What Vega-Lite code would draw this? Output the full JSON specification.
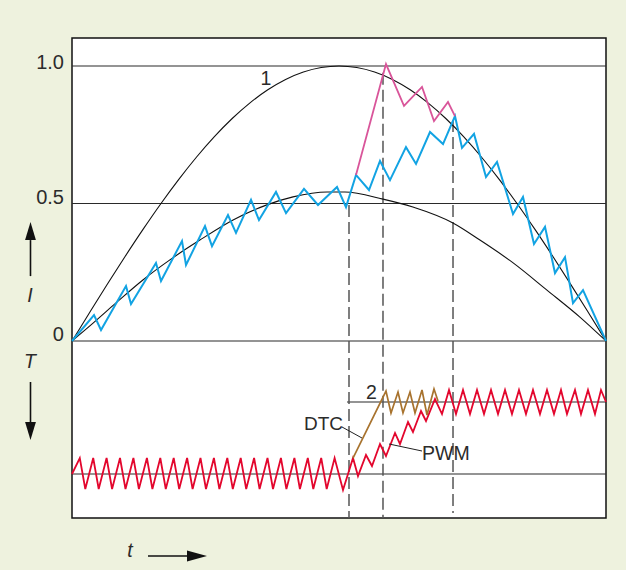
{
  "$schema": "https://vega.github.io/schema/vega-lite/v6.json",
  "width": 534,
  "height": 480,
  "autosize": {"type": "none"},
  "padding": {"left": 72, "top": 38, "right": 20, "bottom": 52},
  "background": "#eef2de",
  "config": {"view": {"stroke": "#111111", "strokeWidth": 1.5, "fill": "#ffffff"}},
  "datasets": {
    "hlines": [
      {"t": 0, "t2": 180, "v": 1},
      {"t": 0, "t2": 180, "v": 0.5},
      {"t": 0, "t2": 180, "v": 0},
      {"t": 0, "t2": 180, "v": -0.4836},
      {"t": 92.7, "t2": 180, "v": -0.2218}
    ],
    "vlines": [
      {"t": 93.37, "v": 0.4945, "v2": -0.6436},
      {"t": 104.83, "v": 0.975, "v2": -0.6436},
      {"t": 128.43, "v": 0.804, "v2": -0.625}
    ],
    "sine": [
      {"t": 0, "v": 0}, {"t": 6, "v": 0.1045}, {"t": 12, "v": 0.2079}, {"t": 18, "v": 0.309},
      {"t": 24, "v": 0.4067}, {"t": 30, "v": 0.5}, {"t": 36, "v": 0.5878}, {"t": 42, "v": 0.6691},
      {"t": 48, "v": 0.7431}, {"t": 54, "v": 0.809}, {"t": 60, "v": 0.866}, {"t": 66, "v": 0.9135},
      {"t": 72, "v": 0.9511}, {"t": 78, "v": 0.9781}, {"t": 84, "v": 0.9945}, {"t": 90, "v": 1},
      {"t": 96, "v": 0.9945}, {"t": 102, "v": 0.9781}, {"t": 108, "v": 0.9511}, {"t": 114, "v": 0.9135},
      {"t": 120, "v": 0.866}, {"t": 126, "v": 0.809}, {"t": 132, "v": 0.7431}, {"t": 138, "v": 0.6691},
      {"t": 144, "v": 0.5878}, {"t": 150, "v": 0.5}, {"t": 156, "v": 0.4067}, {"t": 162, "v": 0.309},
      {"t": 168, "v": 0.2079}, {"t": 174, "v": 0.1045}, {"t": 180, "v": 0}
    ],
    "lower": [
      {"t": 0, "v": 0}, {"t": 7.1, "v": 0.065}, {"t": 15.2, "v": 0.142}, {"t": 23.9, "v": 0.222},
      {"t": 33.0, "v": 0.295}, {"t": 43.1, "v": 0.367}, {"t": 54.3, "v": 0.44}, {"t": 65.7, "v": 0.495},
      {"t": 74.5, "v": 0.524}, {"t": 86.0, "v": 0.542}, {"t": 92, "v": 0.542}, {"t": 104.8, "v": 0.516},
      {"t": 114.9, "v": 0.487}, {"t": 128.4, "v": 0.429}, {"t": 137.5, "v": 0.367}, {"t": 148.7, "v": 0.284},
      {"t": 160.1, "v": 0.185}, {"t": 171.2, "v": 0.087}, {"t": 180, "v": 0}
    ],
    "blue": [
      {"t": 0, "v": 0}, {"t": 7.42, "v": 0.0945}, {"t": 9.78, "v": 0.04}, {"t": 18.2, "v": 0.2},
      {"t": 19.89, "v": 0.1345}, {"t": 28.31, "v": 0.2836}, {"t": 30.0, "v": 0.218}, {"t": 37.08, "v": 0.3636},
      {"t": 38.43, "v": 0.2764}, {"t": 44.83, "v": 0.418}, {"t": 47.19, "v": 0.345}, {"t": 52.58, "v": 0.458},
      {"t": 55.28, "v": 0.393}, {"t": 60.34, "v": 0.513}, {"t": 63.03, "v": 0.44}, {"t": 68.76, "v": 0.542},
      {"t": 72.14, "v": 0.465}, {"t": 78.2, "v": 0.553}, {"t": 82.92, "v": 0.4945}, {"t": 89.33, "v": 0.56},
      {"t": 92.36, "v": 0.487}, {"t": 95.73, "v": 0.604}, {"t": 100.11, "v": 0.549}, {"t": 103.82, "v": 0.6545},
      {"t": 107.19, "v": 0.585}, {"t": 112.58, "v": 0.705}, {"t": 115.96, "v": 0.644}, {"t": 120.67, "v": 0.76},
      {"t": 125.06, "v": 0.716}, {"t": 129.1, "v": 0.818}, {"t": 131.46, "v": 0.702}, {"t": 135.51, "v": 0.753},
      {"t": 139.55, "v": 0.596}, {"t": 143.26, "v": 0.651}, {"t": 148.65, "v": 0.462}, {"t": 152.02, "v": 0.524},
      {"t": 155.73, "v": 0.353}, {"t": 159.44, "v": 0.415}, {"t": 162.81, "v": 0.247}, {"t": 166.18, "v": 0.305},
      {"t": 168.88, "v": 0.138}, {"t": 172.25, "v": 0.185}, {"t": 180, "v": 0}
    ],
    "pink": [
      {"t": 95.73, "v": 0.604}, {"t": 105.84, "v": 1.007}, {"t": 111.91, "v": 0.855}, {"t": 117.98, "v": 0.924},
      {"t": 122.02, "v": 0.8}, {"t": 126.74, "v": 0.869}, {"t": 129.1, "v": 0.818}
    ],
    "red": [
      {"t": 0, "v": -0.4836},
      {"t": 2.63, "v": -0.4255}, {"t": 4.48, "v": -0.5382}, {"t": 7.15, "v": -0.4255}, {"t": 9.0, "v": -0.5382},
      {"t": 11.66, "v": -0.4255}, {"t": 13.51, "v": -0.5382}, {"t": 16.18, "v": -0.4255}, {"t": 18.03, "v": -0.5382},
      {"t": 20.7, "v": -0.4255}, {"t": 22.55, "v": -0.5382}, {"t": 25.25, "v": -0.4255}, {"t": 27.1, "v": -0.5382},
      {"t": 29.76, "v": -0.4255}, {"t": 31.61, "v": -0.5382}, {"t": 34.28, "v": -0.4255}, {"t": 36.13, "v": -0.5382},
      {"t": 38.8, "v": -0.4255}, {"t": 40.65, "v": -0.5382}, {"t": 43.31, "v": -0.4255}, {"t": 45.16, "v": -0.5382},
      {"t": 47.83, "v": -0.4255}, {"t": 49.68, "v": -0.5382}, {"t": 52.35, "v": -0.4255}, {"t": 54.2, "v": -0.5382},
      {"t": 56.87, "v": -0.4255}, {"t": 58.72, "v": -0.5382}, {"t": 61.38, "v": -0.4255}, {"t": 63.23, "v": -0.5382},
      {"t": 65.9, "v": -0.4255}, {"t": 67.75, "v": -0.5382}, {"t": 70.42, "v": -0.4255}, {"t": 72.27, "v": -0.5382},
      {"t": 74.97, "v": -0.4255}, {"t": 76.82, "v": -0.5382}, {"t": 79.48, "v": -0.4255}, {"t": 81.33, "v": -0.5382},
      {"t": 84.0, "v": -0.4255}, {"t": 85.85, "v": -0.5382}, {"t": 88.52, "v": -0.4255}, {"t": 91.35, "v": -0.5418},
      {"t": 94.72, "v": -0.4255}, {"t": 96.4, "v": -0.4909}, {"t": 99.1, "v": -0.4145}, {"t": 101.12, "v": -0.4545},
      {"t": 103.82, "v": -0.3745}, {"t": 105.84, "v": -0.4182}, {"t": 108.88, "v": -0.3345}, {"t": 110.56, "v": -0.3745},
      {"t": 113.26, "v": -0.2945}, {"t": 114.94, "v": -0.3309}, {"t": 117.64, "v": -0.2545}, {"t": 119.33, "v": -0.2909},
      {"t": 122.36, "v": -0.2109}, {"t": 124.72, "v": -0.2655},
      {"t": 127.08, "v": -0.1782}, {"t": 129.44, "v": -0.2655}, {"t": 131.8, "v": -0.1782}, {"t": 134.16, "v": -0.2655},
      {"t": 136.52, "v": -0.1782}, {"t": 138.88, "v": -0.2655}, {"t": 141.24, "v": -0.1782}, {"t": 143.6, "v": -0.2655},
      {"t": 145.96, "v": -0.1782}, {"t": 148.31, "v": -0.2655}, {"t": 150.67, "v": -0.1782}, {"t": 153.03, "v": -0.2655},
      {"t": 155.39, "v": -0.1782}, {"t": 157.75, "v": -0.2655}, {"t": 160.11, "v": -0.1782}, {"t": 162.47, "v": -0.2655},
      {"t": 164.83, "v": -0.1782}, {"t": 166.85, "v": -0.2655}, {"t": 169.55, "v": -0.1782}, {"t": 171.57, "v": -0.2655},
      {"t": 173.93, "v": -0.1782}, {"t": 176.29, "v": -0.2655}, {"t": 178.31, "v": -0.1782}, {"t": 180, "v": -0.2218}
    ],
    "brown": [
      {"t": 94.72, "v": -0.4255}, {"t": 105.84, "v": -0.1818}, {"t": 107.53, "v": -0.2618}, {"t": 109.89, "v": -0.1855},
      {"t": 111.57, "v": -0.2618}, {"t": 113.93, "v": -0.1855}, {"t": 115.62, "v": -0.2618}, {"t": 117.98, "v": -0.1782},
      {"t": 119.66, "v": -0.2691}, {"t": 122.02, "v": -0.1745}, {"t": 123.37, "v": -0.2182}
    ],
    "leaders": [
      {"t": 91.01, "v": -0.3127, "t2": 97.75, "v2": -0.3527},
      {"t": 106.85, "v": -0.3745, "t2": 117.98, "v2": -0.4}
    ],
    "shafts": [
      {"t": -13.99, "v": 0.367, "t2": -13.99, "v2": 0.236},
      {"t": -13.99, "v": -0.149, "t2": -13.99, "v2": -0.2945},
      {"t": 25.62, "v": -0.7818, "t2": 39.78, "v2": -0.7818}
    ],
    "headUp": [{"t": -13.99, "v": 0.4}],
    "headDown": [{"t": -13.99, "v": -0.327}],
    "headRight": [{"t": 42.13, "v": -0.7818}],
    "labelsNum": [
      {"t": -2.7, "v": 0.989, "label": "1.0"},
      {"t": -2.7, "v": 0.5, "label": "0.5"},
      {"t": -2.7, "v": 0, "label": "0"}
    ],
    "labelsRight": [
      {"t": 91.35, "v": -0.3236, "label": "DTC"}
    ],
    "labelsCenter": [
      {"t": 65.39, "v": 0.931, "label": "1"},
      {"t": 100.95, "v": -0.2109, "label": "2"}
    ],
    "labelsLeft": [
      {"t": 117.98, "v": -0.4327, "label": "PWM"}
    ],
    "labelsItalic": [
      {"t": -14.16, "v": 0.1418, "label": "I"},
      {"t": -14.16, "v": -0.0982, "label": "T"},
      {"t": 19.55, "v": -0.7855, "label": "t"}
    ]
  },
  "encoding": {
    "x": {"field": "t", "type": "quantitative", "scale": {"domain": [0, 180], "nice": false, "zero": false}, "axis": null},
    "y": {"field": "v", "type": "quantitative", "scale": {"domain": [-0.6436, 1.1018], "nice": false, "zero": false}, "axis": null}
  },
  "layer": [
    {
      "data": {"name": "hlines"},
      "mark": {"type": "rule", "color": "#2a2a2a", "strokeWidth": 1.2},
      "encoding": {"x2": {"field": "t2"}}
    },
    {
      "data": {"name": "vlines"},
      "mark": {"type": "rule", "color": "#555555", "strokeWidth": 1.5, "strokeDash": [12, 5]},
      "encoding": {"y2": {"field": "v2"}}
    },
    {
      "data": {"name": "sine"},
      "mark": {"type": "line", "color": "#111111", "strokeWidth": 1.1, "interpolate": "monotone"},
      "encoding": {}
    },
    {
      "data": {"name": "lower"},
      "mark": {"type": "line", "color": "#111111", "strokeWidth": 1.1, "interpolate": "monotone"},
      "encoding": {}
    },
    {
      "data": {"name": "blue"},
      "mark": {"type": "line", "color": "#12a3e3", "strokeWidth": 2, "strokeJoin": "miter"},
      "encoding": {}
    },
    {
      "data": {"name": "pink"},
      "mark": {"type": "line", "color": "#d9559a", "strokeWidth": 1.8, "strokeJoin": "miter"},
      "encoding": {}
    },
    {
      "data": {"name": "red"},
      "mark": {"type": "line", "color": "#e3062d", "strokeWidth": 1.8, "strokeJoin": "miter"},
      "encoding": {}
    },
    {
      "data": {"name": "brown"},
      "mark": {"type": "line", "color": "#a8732e", "strokeWidth": 1.7, "strokeJoin": "miter"},
      "encoding": {}
    },
    {
      "data": {"name": "leaders"},
      "mark": {"type": "rule", "color": "#222222", "strokeWidth": 1},
      "encoding": {"x2": {"field": "t2"}, "y2": {"field": "v2"}}
    },
    {
      "data": {"name": "shafts"},
      "mark": {"type": "rule", "color": "#111111", "strokeWidth": 1.6},
      "encoding": {"x2": {"field": "t2"}, "y2": {"field": "v2"}}
    },
    {
      "data": {"name": "headUp"},
      "mark": {"type": "point", "shape": "M-0.6,1L0.6,1L0,-1Z", "size": 324, "filled": true, "color": "#111111", "opacity": 1, "strokeWidth": 0},
      "encoding": {}
    },
    {
      "data": {"name": "headDown"},
      "mark": {"type": "point", "shape": "M-0.6,-1L0.6,-1L0,1Z", "size": 324, "filled": true, "color": "#111111", "opacity": 1, "strokeWidth": 0},
      "encoding": {}
    },
    {
      "data": {"name": "headRight"},
      "mark": {"type": "point", "shape": "M-1,-0.55L1,0L-1,0.55Z", "size": 400, "filled": true, "color": "#111111", "opacity": 1, "strokeWidth": 0},
      "encoding": {}
    },
    {
      "data": {"name": "labelsNum"},
      "mark": {"type": "text", "align": "right", "baseline": "alphabetic", "font": "Liberation Sans", "fontSize": 20, "color": "#2b2b2b"},
      "encoding": {"text": {"field": "label"}}
    },
    {
      "data": {"name": "labelsRight"},
      "mark": {"type": "text", "align": "right", "baseline": "alphabetic", "font": "Liberation Sans", "fontSize": 19, "color": "#2b2b2b"},
      "encoding": {"text": {"field": "label"}}
    },
    {
      "data": {"name": "labelsCenter"},
      "mark": {"type": "text", "align": "center", "baseline": "alphabetic", "font": "Liberation Sans", "fontSize": 19.5, "color": "#2b2b2b"},
      "encoding": {"text": {"field": "label"}}
    },
    {
      "data": {"name": "labelsLeft"},
      "mark": {"type": "text", "align": "left", "baseline": "alphabetic", "font": "Liberation Sans", "fontSize": 19.5, "color": "#2b2b2b"},
      "encoding": {"text": {"field": "label"}}
    },
    {
      "data": {"name": "labelsItalic"},
      "mark": {"type": "text", "align": "center", "baseline": "alphabetic", "font": "Liberation Sans", "fontSize": 19.5, "fontStyle": "italic", "color": "#2b2b2b"},
      "encoding": {"text": {"field": "label"}}
    }
  ]
}
